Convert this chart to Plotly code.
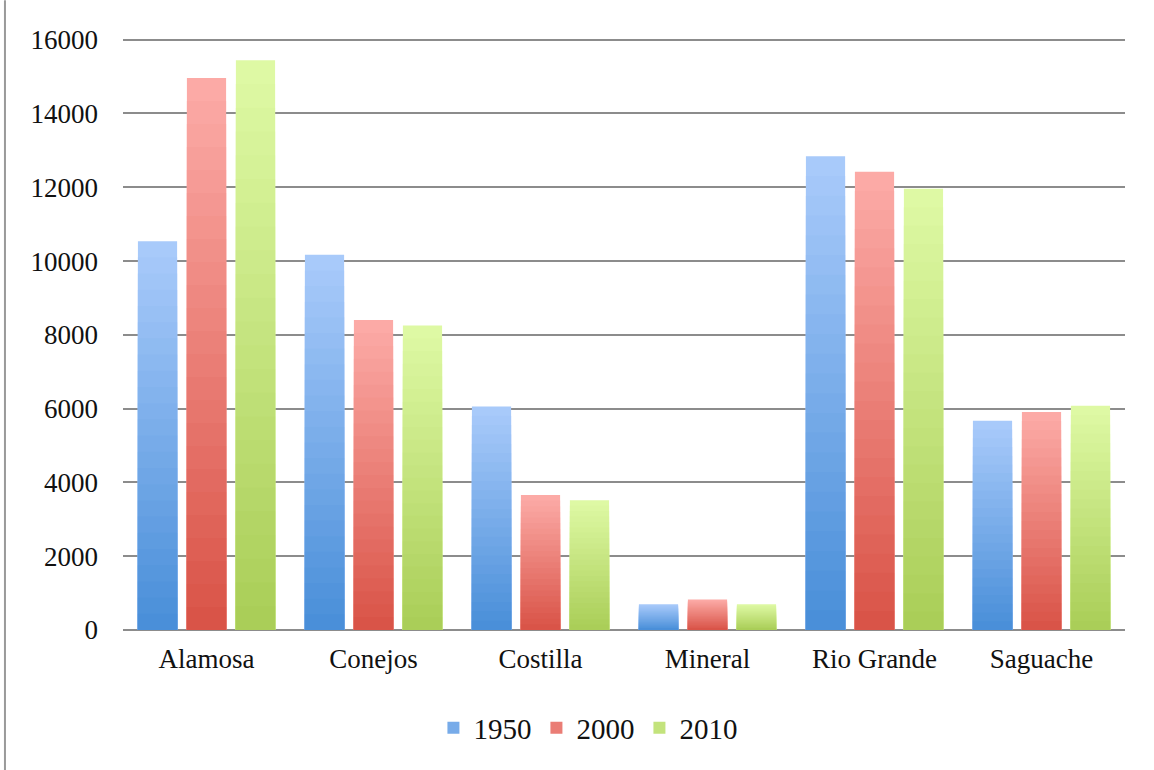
import plotly.graph_objects as go

# County populations, San Luis Valley
counties = ["Alamosa", "Conejos", "Costilla", "Mineral", "Rio Grande", "Saguache"]
years = ["1950", "2000", "2010"]
pop_1950 = [10540, 10170, 6060, 700, 12840, 5670]
pop_2000 = [14960, 8400, 3660, 830, 12420, 5910]
pop_2010 = [15440, 8250, 3520, 700, 11960, 6080]
y_ticks = [0, 2000, 4000, 6000, 8000, 10000, 12000, 14000, 16000]
y_tick_labels = [str(t) for t in y_ticks]

series = {"1950": pop_1950, "2000": pop_2000, "2010": pop_2010}
# (top colour, bottom colour) of each series' vertical gradient
gradients = {
    "1950": ((168, 202, 250), (74, 143, 217)),
    "2000": ((252, 170, 166), (217, 84, 72)),
    "2010": ((222, 249, 164), (170, 206, 88)),
}

STEPS = 24
FONT = "Liberation Serif"


def mix(c1, c2, t):
    return "rgb({},{},{})".format(*(round(a + (b - a) * t) for a, b in zip(c1, c2)))


fig = go.Figure()
for year in years:
    vals = series[year]
    top, bottom = gradients[year]
    # Overlapping bars that shrink step by step, each a little darker,
    # so every bar fades from a light top to a dark base.
    for k in range(STEPS):
        frac = (STEPS - k) / STEPS
        fig.add_trace(go.Bar(
            x=counties,
            y=[v * frac for v in vals],
            name=year,
            offsetgroup=year,
            legendgroup=year,
            showlegend=(k == STEPS // 2),
            marker=dict(color=mix(top, bottom, k / (STEPS - 1)), line=dict(width=0)),
            hoverinfo="skip" if k else "all",
        ))

# frame lines of the chart area
fig.add_shape(type="line", xref="paper", yref="paper",
              x0=-0.125, x1=1.03, y0=1.0645, y1=1.0645,
              line=dict(color="black", width=4))
fig.add_shape(type="line", xref="paper", yref="paper",
              x0=-0.1178, x1=-0.1178, y0=1.06, y1=-0.25,
              line=dict(color="#9a9a9a", width=2))

fig.update_layout(
    width=1154, height=770,
    margin=dict(l=123, r=29, t=36, b=140),
    paper_bgcolor="white", plot_bgcolor="white",
    barmode="group", bargap=0.12, bargroupgap=0.2,
    font=dict(family=FONT, size=27, color="#111111"),
    showlegend=True,
    legend=dict(orientation="h", x=0.464, xanchor="center", y=-0.165, yanchor="middle",
                font=dict(family=FONT, size=29), itemwidth=30,
                traceorder="normal"),
    xaxis=dict(showgrid=False, showline=False, ticks="", ticklabelstandoff=10,
               tickfont=dict(family=FONT, size=27)),
    yaxis=dict(range=[0, 16100], tickvals=y_ticks, ticktext=y_tick_labels,
               showgrid=True, gridcolor="#8c8c8c", gridwidth=2, zeroline=True,
               zerolinecolor="#8c8c8c", zerolinewidth=2, showline=False,
               ticks="", ticklabelstandoff=24, tickfont=dict(family=FONT, size=27)),
)

fig.write_html("out.html")
